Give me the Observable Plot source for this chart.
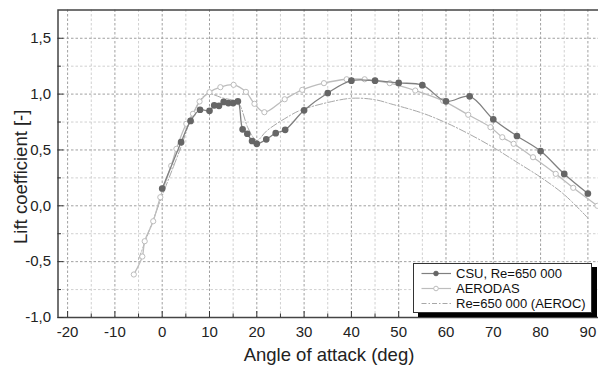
<!DOCTYPE html>
<html>
<head>
<meta charset="utf-8">
<script src="https://cdn.jsdelivr.net/npm/d3@7"></script>
<script src="https://cdn.jsdelivr.net/npm/@observablehq/plot@0.6"></script>
<style>
html, body { margin: 0; padding: 0; background: #fff; overflow: hidden; }
#wrap { position: relative; width: 598px; height: 373px; overflow: hidden; }
#legend { position: absolute; left: 413px; top: 263px; width: 177px; height: 48px;
  border: 1px solid #333; background: #fff; box-shadow: 5px 4px 0 #000;
  font: 13px "Liberation Sans", Arial, sans-serif; color: #111; }
.row { position: absolute; left: 0; height: 15px; width: 177px; }
.row svg { position: absolute; left: 0; top: 0; }
.row span { position: absolute; left: 42px; top: 0; line-height: 15px; white-space: nowrap; }
</style>
</head>
<body>
<div id="wrap"></div>
<script>
// CSU, Re=650 000 (measured)
const csuAlpha = [0, 4, 6, 8, 10, 11, 12, 13, 14, 15, 16, 17, 18, 19, 20, 22, 24, 26, 30, 35, 40, 45, 50, 55, 60, 65, 70, 75, 80, 85, 90];
const csuCl    = [0.155, 0.57, 0.76, 0.86, 0.85, 0.90, 0.895, 0.93, 0.92, 0.92, 0.935, 0.685, 0.645, 0.58, 0.555, 0.595, 0.65, 0.68, 0.855, 1.01, 1.12, 1.12, 1.10, 1.08, 0.935, 0.98, 0.775, 0.625, 0.49, 0.285, 0.11];

// AERODAS model
const aerodasAlpha = [-6.0, -4.2, -3.7, -1.9, -0.4, 1.9, 3.0, 5.1, 6.5, 7.9, 10.0, 12.3, 15.1, 17.7, 19.5, 21.6, 25.9, 29.6, 34.2, 39.0, 42.8, 48.1, 53.5, 59.4, 64.7, 69.4, 71.9, 74.3, 78.4, 83.2, 86.9, 92.0];
const aerodasCl    = [-0.615, -0.454, -0.317, -0.138, 0.077, 0.358, 0.51, 0.734, 0.824, 0.934, 1.017, 1.062, 1.083, 1.02, 0.913, 0.838, 0.954, 1.038, 1.098, 1.133, 1.133, 1.098, 1.032, 0.94, 0.815, 0.704, 0.614, 0.555, 0.435, 0.286, 0.161, 0.0];

// Re=650 000 (AEROC)
const aerocAlpha = [-5, 0, 4, 6.5, 9.4, 12.8, 15.3, 16.3, 18.1, 19.5, 20.1, 22.2, 27.1, 29.2, 35, 40.2, 45, 48.3, 55, 60.2, 65, 70.1, 75, 80, 85, 90.1];
const aerocCl    = [-0.48, 0.09, 0.53, 0.82, 1.0, 0.965, 0.94, 0.91, 0.70, 0.60, 0.585, 0.675, 0.81, 0.855, 0.925, 0.963, 0.95, 0.913, 0.83, 0.74, 0.64, 0.52, 0.39, 0.256, 0.10, -0.114];

const seriesNames = ["CSU, Re=650 000", "AERODAS", "Re=650 000 (AEROC)"];

const xTicks = [-20, -10, 0, 10, 20, 30, 40, 50, 60, 70, 80, 90];
const xMinorTicks = [-15, -5, 5, 15, 25, 35, 45, 55, 65, 75, 85];
const yTicks = [-1, -0.5, 0, 0.5, 1, 1.5];
const yMinorTicks = [-0.75, -0.25, 0.25, 0.75, 1.25];

const toRows = (xs, ys) => xs.map((a, i) => ({alpha: a, cl: ys[i]}));
const csu = toRows(csuAlpha, csuCl);
const aerodas = toRows(aerodasAlpha, aerodasCl);
const aeroc = toRows(aerocAlpha, aerocCl);

const font = '"Liberation Sans", Arial, sans-serif';
const dash = "2.5,2";

const chart = Plot.plot({
  width: 600,
  height: 373,
  marginLeft: 57.5,
  marginRight: 0.5,
  marginTop: 9.5,
  marginBottom: 56,
  style: {fontFamily: font, background: "white", maxWidth: "none", color: "#222"},
  x: {domain: [-22.03, 92.56]},
  y: {domain: [-1, 1.753]},
  marks: [
    Plot.gridX(xMinorTicks, {stroke: "#d0d0d0", strokeOpacity: 1, strokeDasharray: dash}),
    Plot.gridY(yMinorTicks, {stroke: "#d0d0d0", strokeOpacity: 1, strokeDasharray: dash}),
    Plot.gridX(xTicks, {stroke: "#a0a0a0", strokeOpacity: 1, strokeDasharray: dash}),
    Plot.gridY(yTicks, {stroke: "#a0a0a0", strokeOpacity: 1, strokeDasharray: dash}),
    Plot.line(aeroc, {x: "alpha", y: "cl", stroke: "#a8a8a8", strokeWidth: 1, strokeDasharray: "7,2,1.5,2", curve: "catmull-rom"}),
    Plot.line(aerodas, {x: "alpha", y: "cl", stroke: "#bdbdbd", strokeWidth: 1.3, curve: "catmull-rom"}),
    Plot.dot(aerodas, {x: "alpha", y: "cl", r: 2.6, stroke: "#bdbdbd", strokeWidth: 1, fill: "white"}),
    Plot.line(csu, {x: "alpha", y: "cl", stroke: "#808080", strokeWidth: 1.3, curve: "catmull-rom"}),
    Plot.dot(csu, {x: "alpha", y: "cl", r: 2.6, fill: "#666", stroke: "#666"}),
    Plot.frame({stroke: "#444", strokeWidth: 1.5}),
    Plot.axisX(xTicks, {tickSize: 6, dy: -6, fill: "none", stroke: "#333", label: null}),
    Plot.axisX(xMinorTicks, {tickSize: 3.5, dy: -3.5, fill: "none", stroke: "#333", label: null}),
    Plot.axisY(yTicks, {tickSize: 6, dx: 6, fill: "none", stroke: "#333", label: null}),
    Plot.axisY(yMinorTicks, {tickSize: 3.5, dx: 3.5, fill: "none", stroke: "#333", label: null}),
    Plot.axisX(xTicks, {tickSize: 0, tickPadding: 9, fontSize: 15, label: null, fill: "#222",
      tickFormat: d => String(d)}),
    Plot.axisY(yTicks, {tickSize: 0, tickPadding: 7, fontSize: 15, label: null, fill: "#222",
      tickFormat: d => d.toFixed(1).replace(".", ",")}),
    Plot.text(["Angle of attack (deg)"], {frameAnchor: "bottom", dy: 38, lineAnchor: "middle", textAnchor: "middle", fontSize: 18.5, fill: "#222"}),
    Plot.text(["Lift coefficient [-]"], {frameAnchor: "left", dx: -37, dy: 13, rotate: -90, textAnchor: "middle", lineAnchor: "middle", fontSize: 18.5, fill: "#222"})
  ]
});

const wrap = document.getElementById("wrap");
wrap.appendChild(chart);

// Legend overlay
const legendStyles = [
  {stroke: "#808080", dotFill: "#666", dotStroke: "#666", dash: null},
  {stroke: "#bdbdbd", dotFill: "white", dotStroke: "#bdbdbd", dash: null},
  {stroke: "#a8a8a8", dotFill: null, dotStroke: null, dash: "5,2,1.5,2"}
];
const legend = document.createElement("div");
legend.id = "legend";
seriesNames.forEach((name, i) => {
  const s = legendStyles[i];
  const row = document.createElement("div");
  row.className = "row";
  row.style.top = (2 + i * 15) + "px";
  let svg = `<svg width="40" height="15"><line x1="7.5" x2="37" y1="7.5" y2="7.5" stroke="${s.stroke}" stroke-width="1.2"${s.dash ? ` stroke-dasharray="${s.dash}"` : ""}/>`;
  if (s.dotFill) svg += `<circle cx="22" cy="7.5" r="2.3" fill="${s.dotFill}" stroke="${s.dotStroke}"/>`;
  svg += `</svg>`;
  row.innerHTML = svg + `<span>${name}</span>`;
  legend.appendChild(row);
});
wrap.appendChild(legend);
</script>
</body>
</html>
